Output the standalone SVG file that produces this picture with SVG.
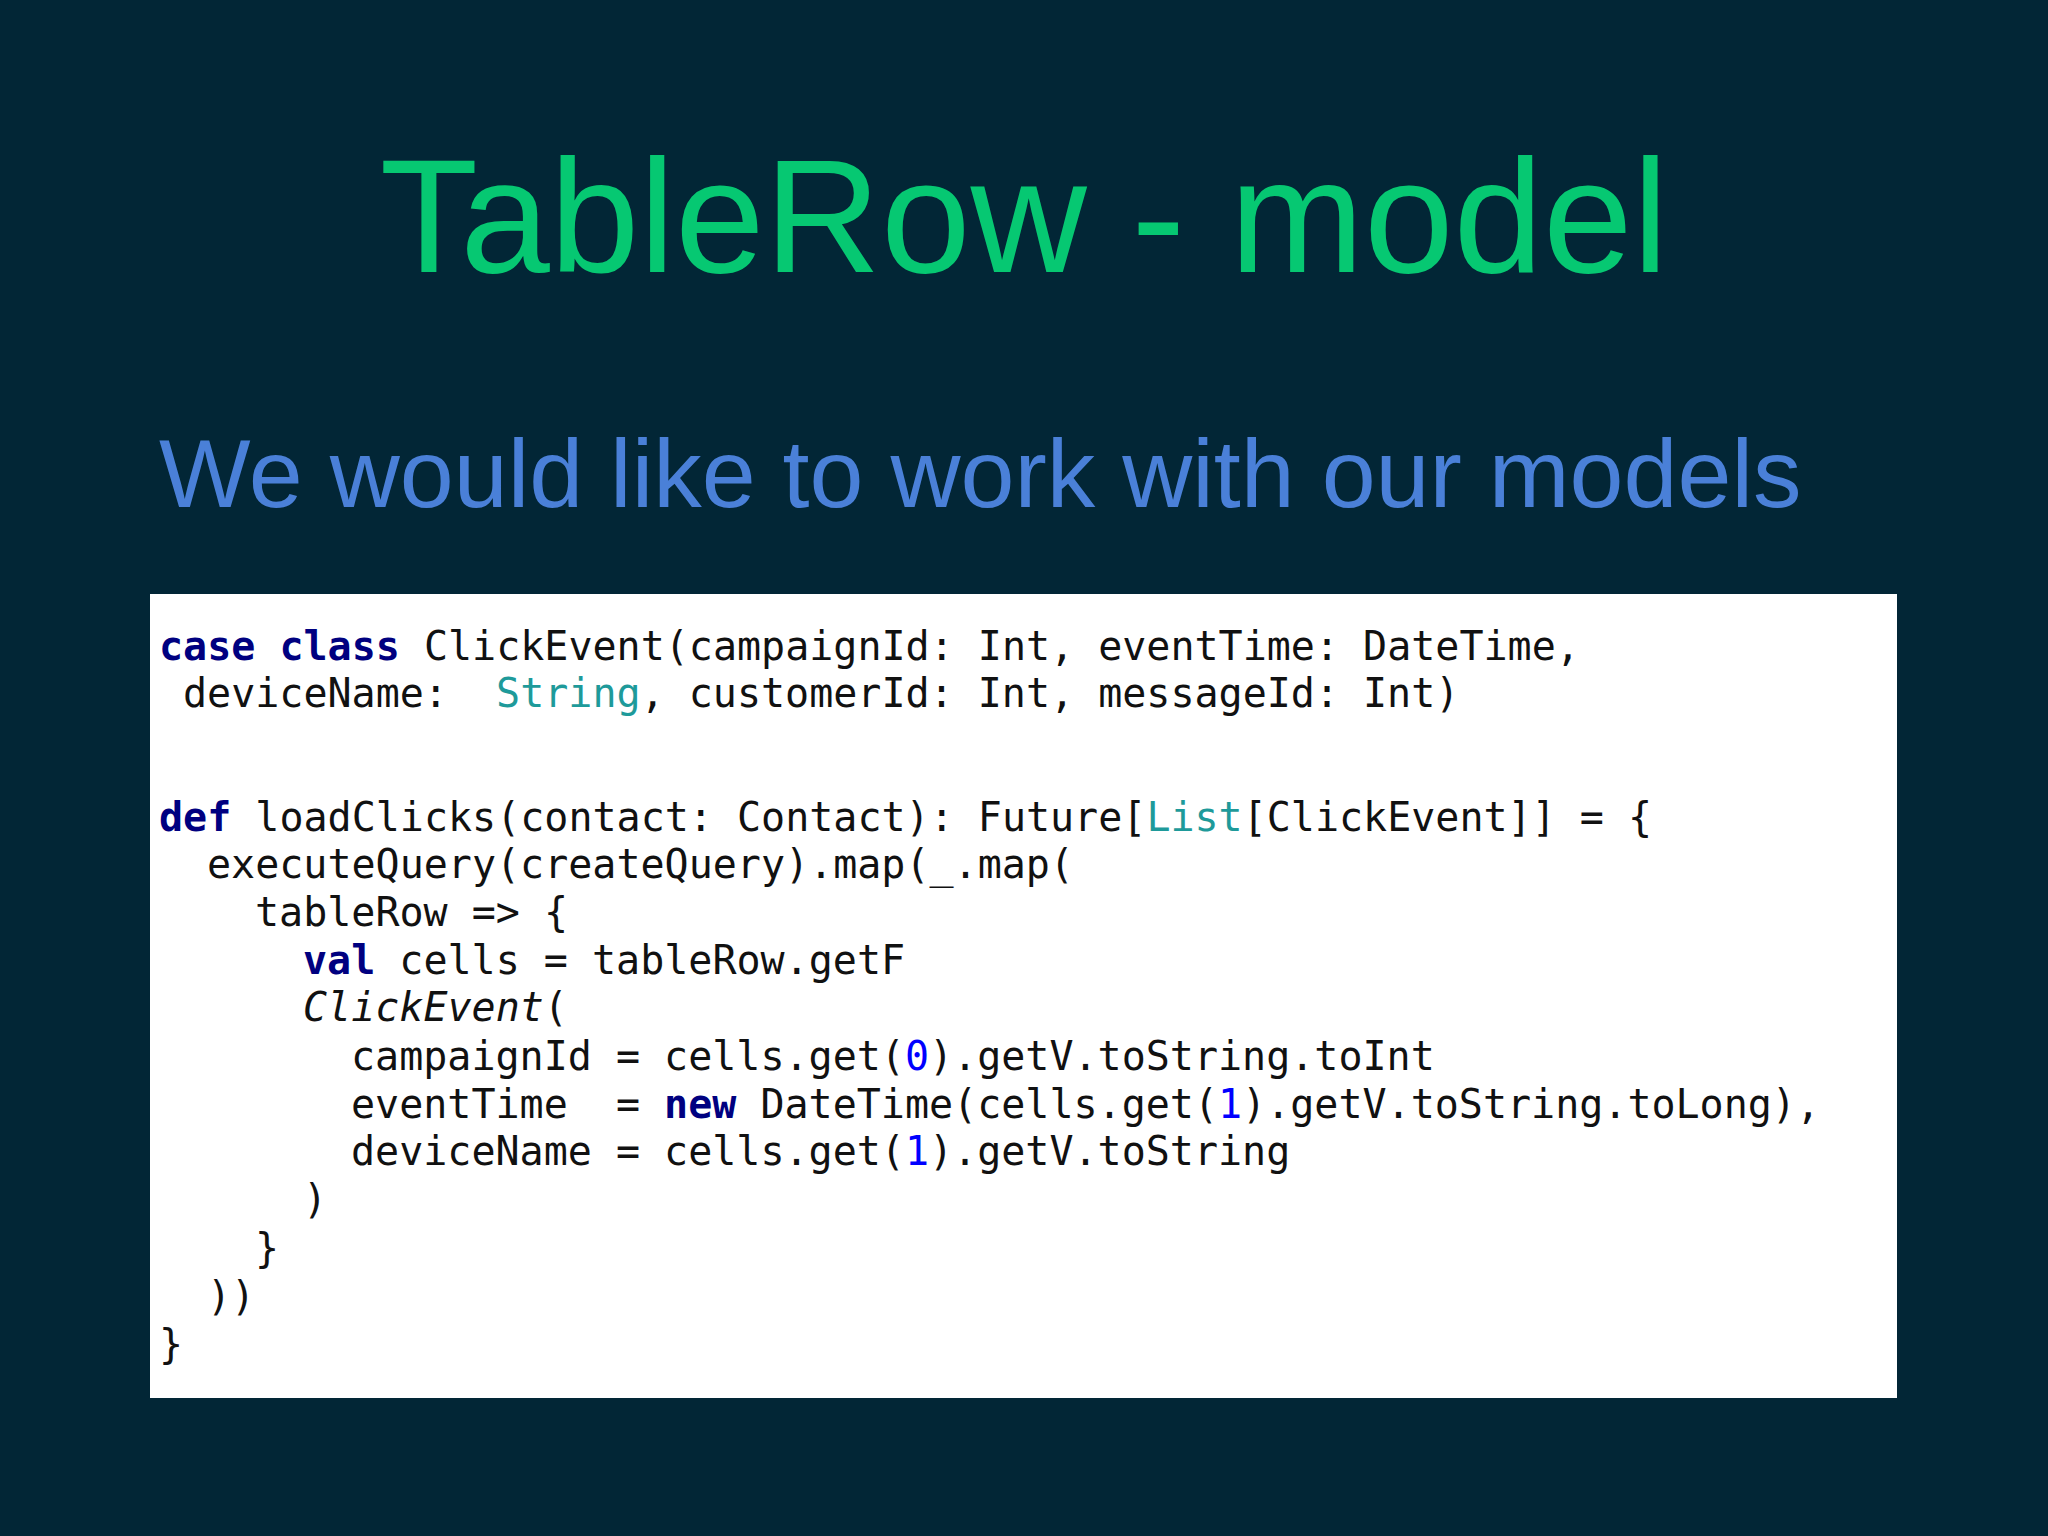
<svg xmlns="http://www.w3.org/2000/svg" width="2048" height="1536" viewBox="0 0 2048 1536">
<style>
.code text{font-family:"DejaVu Sans Mono",monospace;font-size:40px;fill:#111;white-space:pre}
.kw{fill:#000080;font-weight:bold}
.ty{fill:#1e9a9a}
.num{fill:#0000ff}
</style>
<rect width="2048" height="1536" fill="#022636"/>
<text x="1024" y="272" text-anchor="middle" font-family="Liberation Sans, Arial, sans-serif" font-size="161" fill="#06c872">TableRow - model</text>
<text x="159" y="507" font-family="Liberation Sans, Arial, sans-serif" font-size="97" fill="#4a80d8">We would like to work with our models</text>
<rect x="150" y="594" width="1747" height="804" fill="#ffffff"/>
<g class="code">
<text xml:space="preserve" x="159" y="660"><tspan class="kw">case class</tspan> ClickEvent(campaignId: Int, eventTime: DateTime,</text>
<text xml:space="preserve" x="183" y="707">deviceName:  <tspan class="ty">String</tspan>, customerId: Int, messageId: Int)</text>
<text xml:space="preserve" x="159" y="831"><tspan class="kw">def</tspan> loadClicks(contact: Contact): Future[<tspan class="ty">List</tspan>[ClickEvent]] = {</text>
<text xml:space="preserve" x="207" y="878">executeQuery(createQuery).map(_.map(</text>
<text xml:space="preserve" x="255" y="926">tableRow =&gt; {</text>
<text xml:space="preserve" x="303" y="974"><tspan class="kw">val</tspan> cells = tableRow.getF</text>
<text xml:space="preserve" x="303" y="1021"><tspan font-style="italic">ClickEvent</tspan>(</text>
<text xml:space="preserve" x="351" y="1070">campaignId = cells.get(<tspan class="num">0</tspan>).getV.toString.toInt</text>
<text xml:space="preserve" x="351" y="1118">eventTime  = <tspan class="kw">new</tspan> DateTime(cells.get(<tspan class="num">1</tspan>).getV.toString.toLong),</text>
<text xml:space="preserve" x="351" y="1165">deviceName = cells.get(<tspan class="num">1</tspan>).getV.toString</text>
<text xml:space="preserve" x="303" y="1213">)</text>
<text xml:space="preserve" x="255" y="1262">}</text>
<text xml:space="preserve" x="207" y="1310">))</text>
<text xml:space="preserve" x="159" y="1358">}</text>
</g>
</svg>
